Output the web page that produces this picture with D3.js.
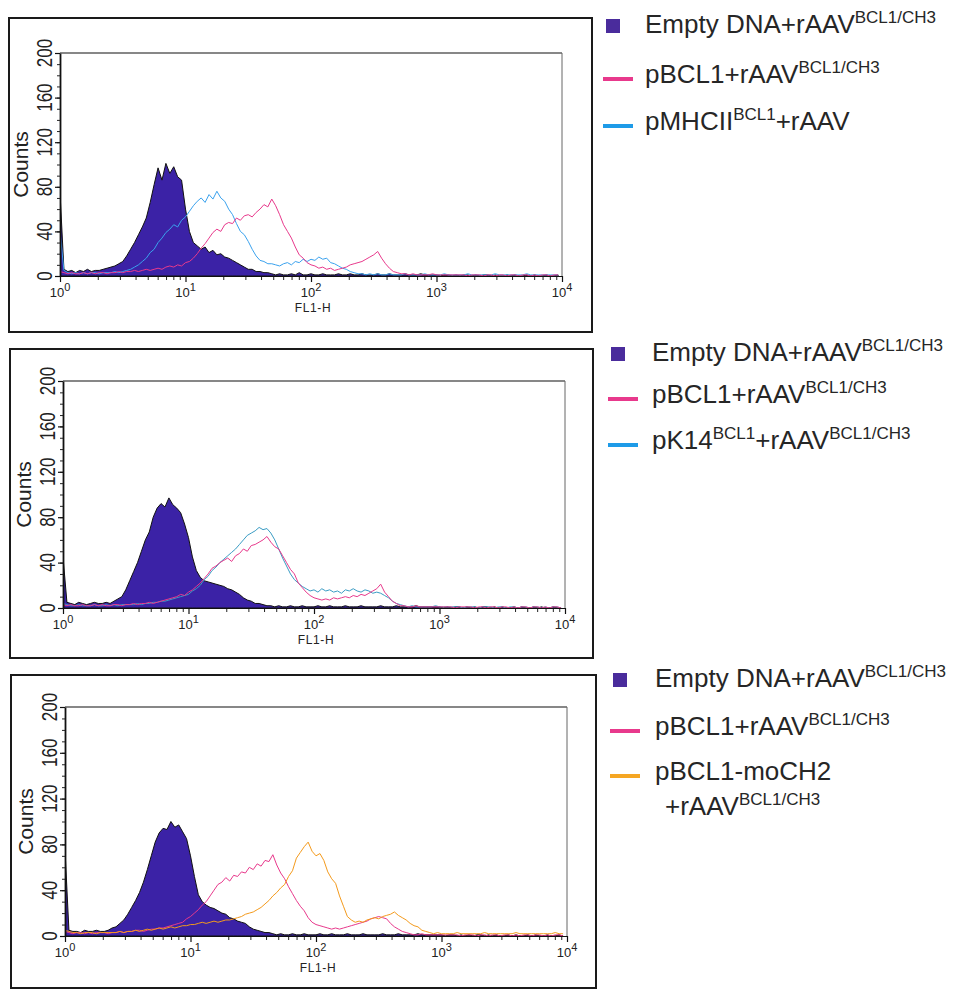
<!DOCTYPE html>
<html>
<head>
<meta charset="utf-8">
<script src="https://cdn.jsdelivr.net/npm/d3@7"></script>
<style>
body { margin: 0; background: #fff; }
svg text { font-family: "Liberation Sans", Arial, sans-serif; }
.legend text { fill: #262626; }
</style>
</head>
<body>
<svg id="fig" width="969" height="991"></svg>
<script>
// ---- data (counts per channel, 32 channels per decade, 10^0 .. 10^4) ----
var yTicks = [0, 40, 80, 120, 160, 200];
var xDecades = [1, 10, 100, 1000, 10000];
var xLabel = "FL1-H";
var yLabel = "Counts";

var p1Empty = [75,6,4,5,3,5,4,6,4,5,5,6,7,8,9,11,13,18,24,30,37,44,52,66,82,97,86,101,92,98,89,86,60,40,30,27,24,26,21,23,19,20,17,16,14,12,10,8,6,6,4,4,3,3,
  2,1,2,1,1,2,1,3,1,1,2,1,1,2,1,1,1,2,1,1,2,1,1,2,1,1,1,2,1,1,2,1,1,1,2,1,1,1,2,1,1,1,
  1,0,1,1,0,1,0,1,1,0,1,0,1,1,0,1,0,0,1,0,1,0,0,1,0,1,0,0,1,0,0,1];
var p1Mhc = [40,5,3,2,3,2,3,2,3,3,2,3,3,3,4,3,4,5,6,8,10,13,16,21,24,30,34,39,42,46,44,50,53,58,63,67,70,66,73,69,76,70,67,60,55,47,40,37,31,24,18,14,13,11,11,10,9,11,12,10,13,12,15,13,15,14,17,15,16,12,11,9,7,6,4,3,
  2,2,1,2,1,2,1,1,2,1,1,1,2,1,1,1,1,2,1,1,1,1,2,1,1,1,1,1,2,1,1,1,1,1,1,2,1,1,1,1,1,1,1,2,1,1,1,1,1,1,1,1];
var p1Bcl = [4,3,2,3,2,2,3,2,3,2,3,3,2,3,3,4,3,4,4,5,4,5,6,5,6,7,6,8,9,8,10,9,12,13,16,20,25,29,34,39,42,40,46,48,47,52,50,54,55,53,57,60,64,62,69,63,55,46,40,34,26,19,16,12,10,9,7,8,6,7,5,6,7,8,10,11,12,13,15,17,19,22,16,11,7,4,3,2,2,
  1,2,1,1,1,1,2,1,1,1,1,1,1,1,1,0,1,1,1,0,1,1,0,1,1,0,1,1,0,1,1,0,1,0,1,1,0,1,1];

var p2Empty = [45,5,4,3,5,4,3,4,5,4,4,5,4,6,8,10,16,24,32,40,50,60,67,80,88,92,89,97,91,88,84,74,62,45,33,27,24,23,22,21,20,19,17,16,14,12,9,7,6,4,4,3,
  2,2,1,2,1,1,2,1,1,2,1,1,1,2,1,1,2,1,1,1,2,1,1,1,2,1,1,1,1,2,1,1,1,2,1,1,1,1,2,1,1,1,1,1,
  1,0,1,0,1,1,0,1,0,1,0,1,1,0,1,0,1,0,0,1,0,1,0,0,1,0,1,0,0,1,0,0];
var p2K14 = [4,3,2,2,3,2,2,2,3,2,2,3,2,3,2,3,3,3,3,4,3,4,4,5,5,6,6,7,8,9,10,11,12,15,17,20,25,28,33,36,40,43,46,49,52,56,60,64,66,68,71,69,70,66,60,52,44,37,30,25,22,19,17,15,16,14,17,15,16,14,15,13,16,15,17,15,14,16,15,13,14,13,11,9,6,4,3,2,
  1,2,1,1,1,1,1,2,1,1,1,1,1,1,0,1,1,1,0,1,1,1,0,1,1,0,1,1,0,1,1,0,1,1,0,1,0,1,1,0];
var p2Bcl = [3,2,3,2,2,3,2,2,3,2,3,2,2,3,3,2,3,3,4,3,4,4,5,4,5,6,7,8,9,10,12,11,14,16,19,22,26,30,35,37,40,42,44,41,46,48,52,50,55,56,58,60,63,58,54,52,46,40,34,30,22,18,14,11,9,8,7,8,7,9,8,9,10,9,11,10,12,11,13,15,17,21,14,10,6,4,2,2,
  1,1,2,1,1,1,1,1,1,1,1,1,0,1,1,1,1,0,1,1,0,1,1,0,1,1,0,1,0,1,1,0,1,1,0,1,0,1,1,0];

var p3Empty = [75,5,4,4,3,5,4,4,5,4,4,5,7,8,11,14,19,25,31,38,47,58,70,82,90,94,93,100,95,97,91,85,70,52,36,30,27,25,24,22,20,19,16,15,13,12,11,8,6,5,4,3,3,
  2,1,2,1,1,2,1,1,2,1,1,1,2,1,1,2,1,1,1,2,1,1,1,2,1,1,1,1,2,1,1,1,2,1,1,1,1,2,1,1,1,1,1,
  1,0,1,1,0,1,0,1,0,1,1,0,1,0,1,0,0,1,0,1,0,0,1,0,1,0,0,1,0,0,1,0];
var p3Bcl = [4,3,2,3,3,2,3,2,3,3,3,2,3,3,4,3,4,4,5,5,4,5,6,6,7,7,8,9,10,11,12,15,17,20,23,27,30,35,40,45,47,51,48,53,52,56,55,60,58,63,61,66,65,71,62,55,50,43,37,31,26,22,16,12,10,9,8,7,6,7,6,7,8,9,10,11,12,13,15,16,17,16,15,11,8,6,4,3,2,
  1,1,2,1,1,1,1,1,1,1,1,1,0,1,1,1,0,1,1,0,1,1,0,1,1,0,1,0,1,1,0,1,1,0,1,0,1,1,0];
var p3MoCH2 = [5,4,3,3,2,3,3,3,2,3,3,3,3,3,4,3,4,4,5,4,5,6,5,6,7,6,7,8,7,8,9,9,10,10,11,12,11,12,13,12,13,14,14,15,16,17,19,20,21,23,25,28,31,35,38,42,45,52,57,68,73,78,82,74,70,72,66,56,50,46,35,26,17,14,12,13,12,14,15,16,15,17,18,19,21,18,16,14,11,9,8,5,4,3,
  2,3,2,2,2,2,3,2,2,2,2,2,2,3,2,2,2,2,2,2,2,3,2,2,2,2,2,2,2,2,2,3,2,2];

var legend1 = ["Empty DNA+rAAV^{BCL1/CH3}", "pBCL1+rAAV^{BCL1/CH3}", "pMHCII^{BCL1}+rAAV"];
var legend2 = ["Empty DNA+rAAV^{BCL1/CH3}", "pBCL1+rAAV^{BCL1/CH3}", "pK14^{BCL1}+rAAV^{BCL1/CH3}"];
var legend3 = ["Empty DNA+rAAV^{BCL1/CH3}", "pBCL1+rAAV^{BCL1/CH3}", "pBCL1-moCH2", "+rAAV^{BCL1/CH3}"];

// ---- layout ----
var FILL = "#3b22a6", PINK = "#e8398c", SKY = "#3aa2ee", TEAL = "#3a9cc4", ORANGE = "#f49a1c";

var panels = [
  { box: [9, 18, 592, 332], plot: [60, 53, 562, 276], filled: p1Empty,
    lines: [{ d: p1Mhc, c: SKY }, { d: p1Bcl, c: PINK }],
    legend: legend1, mark: ["sq", PINK, "#1e9be8"], lx: 603, tx: 645, rows: [33, 83, 130] },
  { box: [10, 349, 593, 658], plot: [63, 381, 565, 608], filled: p2Empty,
    lines: [{ d: p2K14, c: TEAL }, { d: p2Bcl, c: PINK }],
    legend: legend2, mark: ["sq", PINK, "#1e9be8"], lx: 608, tx: 652, rows: [361, 403, 449] },
  { box: [11, 675, 596, 988], plot: [65, 707, 567, 936], filled: p3Empty,
    lines: [{ d: p3Bcl, c: PINK }, { d: p3MoCH2, c: ORANGE }],
    legend: legend3, mark: ["sq", PINK, "#f5a623", null], lx: 610, tx: 655, rows: [687, 735, 780, 815] }
];

var svg = d3.select("#fig");

function chan(i) { return Math.pow(10, i / 32); }

// "text^{sup}text" -> tspans, superscripts raised by 10px
function richText(sel, str, size, supSize) {
  var parts = str.split(/\^\{([^}]*)\}/);
  var shift = 0;
  parts.forEach(function (p, k) {
    if (!p) return;
    var isSup = k % 2 === 1;
    var want = isSup ? -10 : 0;
    sel.append("tspan").attr("font-size", isSup ? supSize : size)
      .attr("dy", want - shift).text(p);
    shift = want;
  });
}

panels.forEach(function (P, pi) {
  var b = P.box, pl = P.plot;
  svg.append("rect").attr("x", b[0]).attr("y", b[1])
    .attr("width", b[2] - b[0]).attr("height", b[3] - b[1])
    .attr("fill", "none").attr("stroke", "#1a1a1a").attr("stroke-width", 2);

  var x = d3.scaleLog().domain([1, 10000]).range([pl[0], pl[2]]);
  var y = d3.scaleLinear().domain([0, 200]).range([pl[3], pl[1]]);

  var clipId = "clip" + pi;
  svg.append("clipPath").attr("id", clipId).append("rect")
    .attr("x", pl[0]).attr("y", pl[1] - 2).attr("width", pl[2] - pl[0]).attr("height", pl[3] - pl[1] + 2);

  var g = svg.append("g").attr("clip-path", "url(#" + clipId + ")");

  var area = d3.area().x(function (d, i) { return x(chan(i)); })
    .y0(y(0)).y1(function (d) { return y(d); });
  var line = d3.line().x(function (d, i) { return x(chan(i)); })
    .y(function (d) { return y(d); });

  g.append("path").datum(P.filled).attr("d", area)
    .attr("fill", FILL).attr("stroke", "#111").attr("stroke-width", 1);
  P.lines.forEach(function (L) {
    g.append("path").datum(L.d).attr("d", line)
      .attr("fill", "none").attr("stroke", L.c).attr("stroke-width", 1);
  });

  // frame
  svg.append("line").attr("x1", pl[0]).attr("x2", pl[2]).attr("y1", pl[1]).attr("y2", pl[1])
    .attr("stroke", "#111").attr("stroke-width", 1.2);
  svg.append("line").attr("x1", pl[2]).attr("x2", pl[2]).attr("y1", pl[1]).attr("y2", pl[3])
    .attr("stroke", "#666").attr("stroke-width", 1);

  // x axis
  var minor = [];
  xDecades.slice(0, 4).forEach(function (d) { for (var k = 2; k < 10; k++) minor.push(d * k); });
  svg.append("g").attr("transform", "translate(0," + pl[3] + ")")
    .call(d3.axisBottom(x).tickValues(minor).tickSize(4).tickSizeOuter(0).tickFormat(""))
    .call(function (a) { a.select(".domain").attr("stroke", "#111"); a.selectAll(".tick line").attr("stroke", "#222"); a.selectAll(".tick text").remove(); });
  var xa = svg.append("g").attr("transform", "translate(0," + pl[3] + ")")
    .call(d3.axisBottom(x).tickValues(xDecades).tickSize(6).tickSizeOuter(0).tickFormat(""));
  xa.select(".domain").attr("stroke", "#111");
  xa.selectAll(".tick line").attr("stroke", "#111").attr("stroke-width", 1.2);
  xa.selectAll(".tick text").remove();
  xDecades.forEach(function (d, k) {
    var t = svg.append("text").attr("x", x(d)).attr("y", pl[3] + 21)
      .attr("text-anchor", "middle").attr("fill", "#222").attr("font-size", 13)
      .style("font-family", "'Liberation Sans Narrow', 'Liberation Sans', sans-serif");
    t.append("tspan").attr("font-size", 13).text("10");
    t.append("tspan").attr("font-size", 11).attr("dy", -6).text(String(k));
  });
  svg.append("text").attr("x", (x(10) + x(1000)) / 2 + 2).attr("y", pl[3] + 36)
    .attr("text-anchor", "middle").attr("font-size", 12).attr("letter-spacing", 0.6)
    .attr("fill", "#222").text(xLabel);

  // y axis
  svg.append("g").attr("transform", "translate(" + pl[0] + ",0)")
    .call(d3.axisLeft(y).tickValues(d3.range(0, 201, 10)).tickSize(3).tickSizeOuter(0).tickFormat(""))
    .call(function (a) { a.select(".domain").attr("stroke", "#111").attr("stroke-width", 1.8); a.selectAll(".tick line").attr("stroke", "#222"); a.selectAll(".tick text").remove(); });
  svg.append("g").attr("transform", "translate(" + pl[0] + ",0)")
    .call(d3.axisLeft(y).tickValues(yTicks).tickSize(5).tickSizeOuter(0).tickFormat(""))
    .call(function (a) { a.select(".domain").remove(); a.selectAll(".tick line").attr("stroke", "#111").attr("stroke-width", 1.2); a.selectAll(".tick text").remove(); });
  yTicks.forEach(function (v) {
    svg.append("text")
      .attr("transform", "translate(" + (pl[0] - 8) + "," + y(v) + ") rotate(-90) scale(1,1.25)")
      .attr("text-anchor", "middle").attr("font-size", 17).attr("fill", "#222")
      .style("font-family", "'Liberation Sans Narrow', 'Liberation Sans', sans-serif")
      .text(v);
  });
  svg.append("text")
    .attr("transform", "translate(" + (pl[0] - 32) + "," + ((pl[1] + pl[3]) / 2) + ") rotate(-90)")
    .attr("text-anchor", "middle").attr("font-size", 21).attr("fill", "#222").text(yLabel);

  // legend
  var lg = svg.append("g").attr("class", "legend");
  P.legend.forEach(function (s, k) {
    var by = P.rows[k];
    var m = P.mark[k];
    if (m === "sq") {
      lg.append("rect").attr("x", P.lx + 3).attr("y", by - 14).attr("width", 14).attr("height", 14)
        .attr("fill", "#4a2c9c");
    } else if (m) {
      lg.append("rect").attr("x", P.lx).attr("y", by - 6).attr("width", 30).attr("height", 4)
        .attr("fill", m);
    }
    var tx = m === null ? P.tx + 10 : P.tx;
    var t = lg.append("text").attr("x", tx).attr("y", by).attr("font-size", 26);
    richText(t, s, 26, 17);
  });
});
</script>
</body>
</html>
